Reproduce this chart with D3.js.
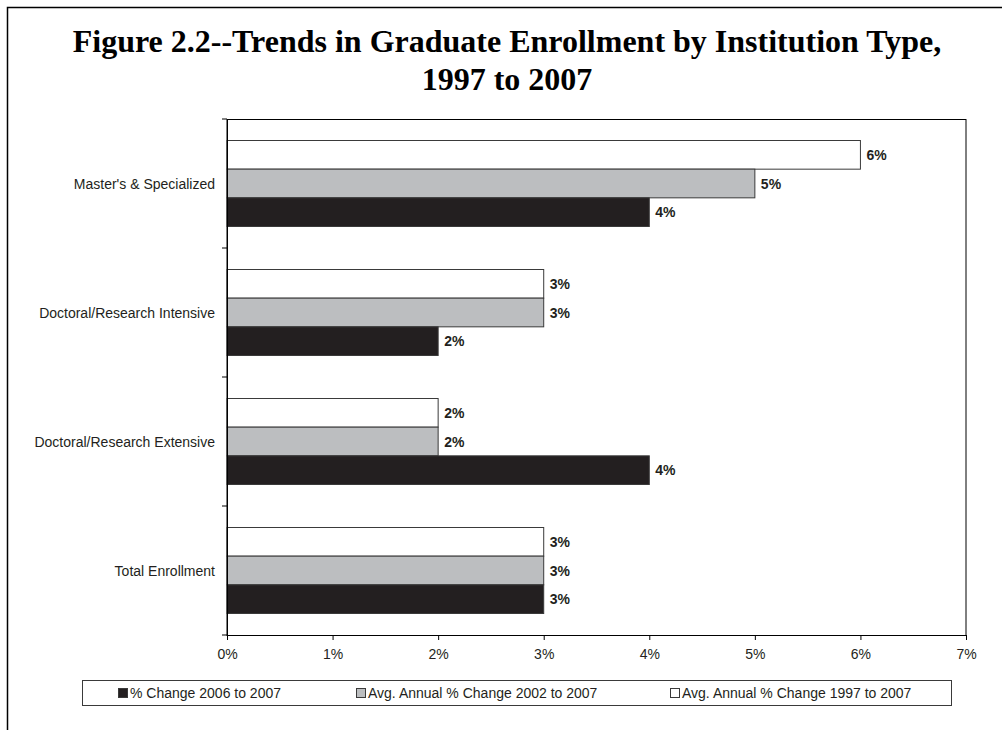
<!DOCTYPE html>
<html>
<head>
<meta charset="utf-8">
<script src="https://cdn.jsdelivr.net/npm/d3@7"></script>
<style>
  html, body { margin: 0; padding: 0; background: #fff; }
  svg { display: block; }
</style>
</head>
<body>
<svg id="chart" width="1002" height="730"></svg>
<script>
// Institution types, top to bottom
const categories = [
  "Master's & Specialized",
  "Doctoral/Research Intensive",
  "Doctoral/Research Extensive",
  "Total Enrollment"
];
// Series (drawn top to bottom within each group)
const seriesNames = [
  "Avg. Annual % Change 1997 to 2007",
  "Avg. Annual % Change 2002 to 2007",
  "% Change 2006 to 2007"
];
const change1997to2007 = [6, 3, 2, 3];
const change2002to2007 = [5, 3, 2, 3];
const change2006to2007 = [4, 2, 4, 3];
const seriesValues = [change1997to2007, change2002to2007, change2006to2007];
const seriesColors = ["#ffffff", "#bcbec0", "#231f20"];
const xTicks = [0, 1, 2, 3, 4, 5, 6, 7];
// Legend shows series in this order
const legendOrder = [2, 1, 0];

const svg = d3.select("#chart");
const W = 1002, H = 730;
const plot = { left: 227, top: 119, right: 966, bottom: 635 };
const sans = "'Liberation Sans', Arial, sans-serif";

// Outer frame (runs past the right/bottom edge)
svg.append("rect")
  .attr("x", 7.5).attr("y", 7.5)
  .attr("width", W + 20).attr("height", H + 20)
  .attr("fill", "none").attr("stroke", "#000").attr("stroke-width", 1.5);

// Title
const title = svg.append("text")
  .attr("text-anchor", "middle")
  .attr("font-family", "'Liberation Serif', 'Times New Roman', serif")
  .attr("font-weight", "bold")
  .attr("font-size", 32)
  .attr("fill", "#000");
title.append("tspan").attr("x", 507).attr("y", 52)
  .text("Figure 2.2--Trends in Graduate Enrollment by Institution Type,");
title.append("tspan").attr("x", 507).attr("y", 90)
  .text("1997 to 2007");

const x = d3.scaleLinear().domain([0, 7]).range([plot.left, plot.right]);
const y = d3.scaleBand().domain(categories).range([plot.top, plot.bottom]).paddingInner(0).paddingOuter(0);
const inner = d3.scaleBand().domain(d3.range(seriesNames.length))
  .range([0, y.bandwidth()]).paddingOuter(0.75).paddingInner(0);

// Plot area frame
svg.append("rect")
  .attr("x", plot.left).attr("y", plot.top + 0.5)
  .attr("width", plot.right - plot.left).attr("height", plot.bottom - plot.top)
  .attr("fill", "none").attr("stroke", "#000").attr("stroke-width", 1);

// Bars
seriesValues.forEach((vals, si) => {
  const g = svg.append("g");
  g.selectAll("rect").data(vals).join("rect")
    .attr("x", x(0))
    .attr("y", (d, i) => y(categories[i]) + inner(si))
    .attr("width", d => x(d) - x(0))
    .attr("height", inner.bandwidth())
    .attr("fill", seriesColors[si])
    .attr("stroke", "#3a3a3a").attr("stroke-width", 1);
  g.selectAll("text").data(vals).join("text")
    .attr("x", d => x(d) + 6)
    .attr("y", (d, i) => y(categories[i]) + inner(si) + inner.bandwidth() / 2 + 5)
    .attr("font-family", sans)
    .attr("font-weight", "bold")
    .attr("font-size", 14)
    .attr("fill", "#231f20")
    .text(d => d + "%");
});

// X axis
const xAxis = svg.append("g")
  .attr("transform", `translate(0,${plot.bottom})`)
  .call(d3.axisBottom(x).tickValues(xTicks).tickFormat(d => d + "%").tickSize(5).tickPadding(9));
xAxis.select(".domain").attr("stroke", "#000");
xAxis.selectAll(".tick line").attr("stroke", "#000");
xAxis.selectAll("text")
  .attr("font-family", sans)
  .attr("font-size", 14).attr("fill", "#231f20");

// Y axis: ticks at group boundaries, labels centred on groups
const boundaries = categories.map(c => y(c)).concat([plot.bottom]);
svg.append("g").selectAll("line").data(boundaries).join("line")
  .attr("x1", plot.left - 5).attr("x2", plot.left)
  .attr("y1", d => d).attr("y2", d => d)
  .attr("stroke", "#000");
svg.append("line")
  .attr("x1", plot.left + 0.5).attr("x2", plot.left + 0.5)
  .attr("y1", plot.top).attr("y2", plot.bottom + 5)
  .attr("stroke", "#000");
svg.append("g").selectAll("text").data(categories).join("text")
  .attr("x", 215)
  .attr("y", d => y(d) + y.bandwidth() / 2 + 5)
  .attr("text-anchor", "end")
  .attr("font-family", sans)
  .attr("font-size", 14).attr("fill", "#231f20")
  .text(d => d);

// Legend
svg.append("rect")
  .attr("x", 82.5).attr("y", 680.5).attr("width", 869).attr("height", 25)
  .attr("fill", "#fff").attr("stroke", "#3a3a3a").attr("stroke-width", 1);
const legendX = [118, 356, 670];
const lg = svg.append("g").selectAll("g").data(legendOrder).join("g")
  .attr("transform", (d, i) => `translate(${legendX[i]},693)`);
lg.append("rect")
  .attr("x", 0.5).attr("y", -4.5).attr("width", 9).attr("height", 9)
  .attr("fill", d => seriesColors[d]).attr("stroke", "#3a3a3a");
lg.append("text")
  .attr("x", 12).attr("y", 5)
  .attr("font-family", sans)
  .attr("font-size", 14).attr("fill", "#231f20")
  .text(d => seriesNames[d]);
</script>
</body>
</html>
